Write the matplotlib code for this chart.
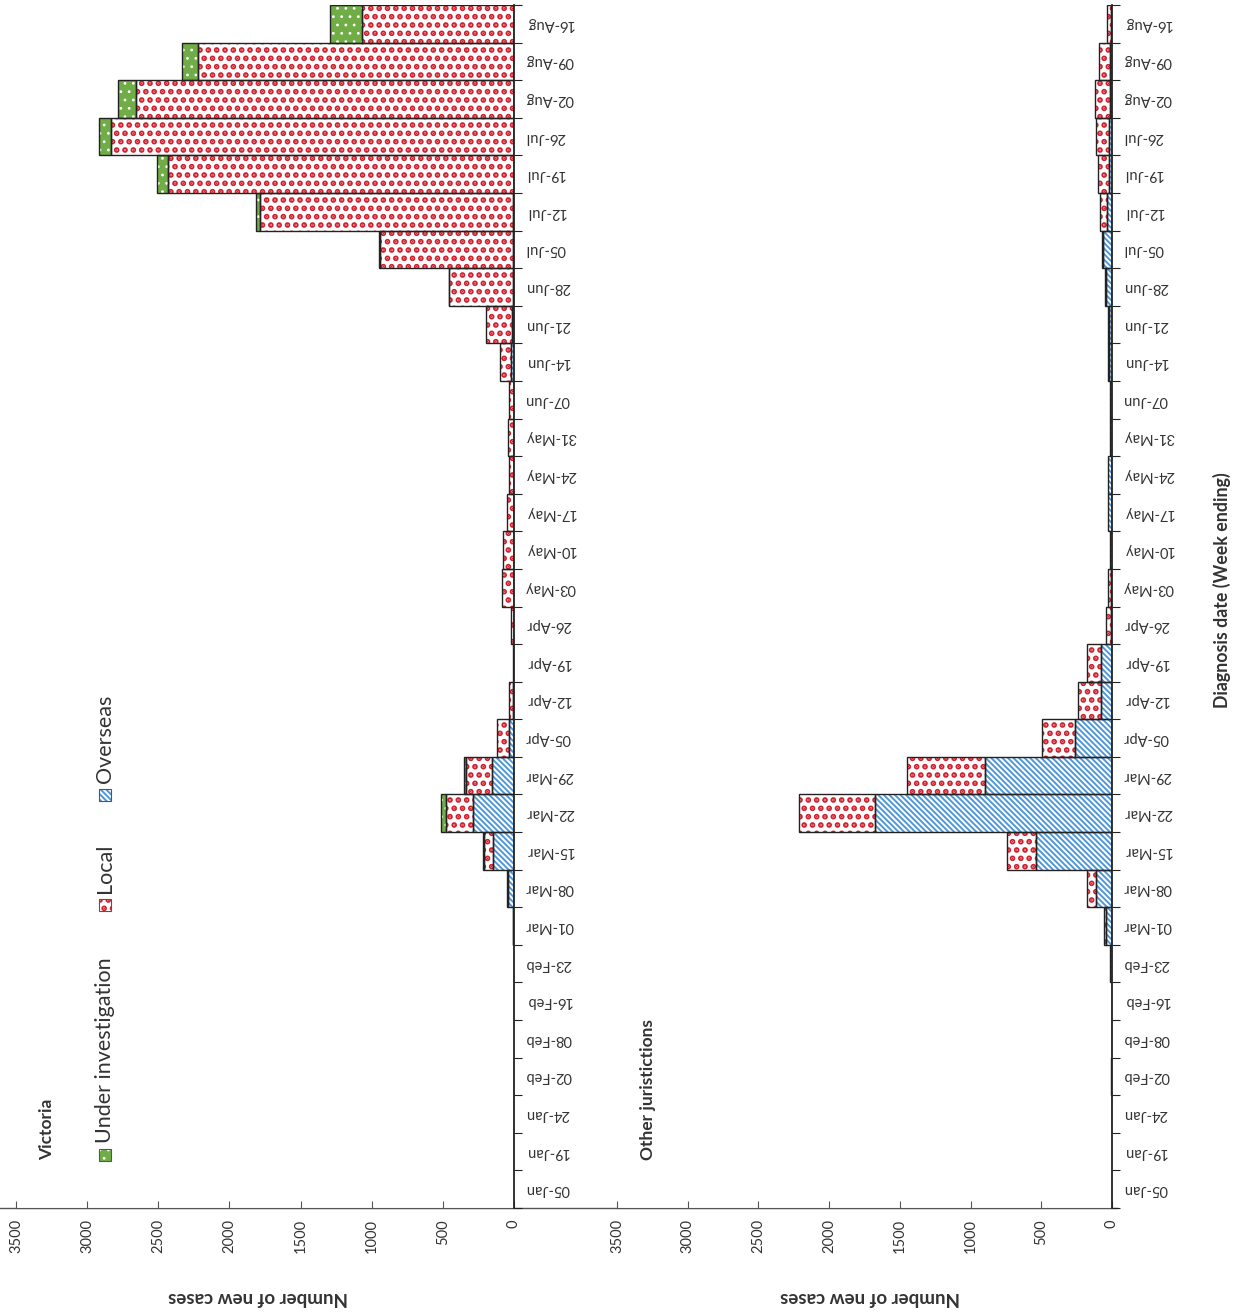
import numpy as np
import matplotlib
matplotlib.use('Agg')
import matplotlib.pyplot as plt
from matplotlib.patches import Rectangle
from matplotlib.lines import Line2D

plt.rcParams['font.family'] = ['Lato', 'DejaVu Sans']

# week ending labels, as printed on the chart
dates = ['05-Jan', '19-Jan', '24-Jan', '02-Feb', '08-Feb', '16-Feb', '23-Feb', '01-Mar',
         '08-Mar', '15-Mar', '22-Mar', '29-Mar', '05-Apr', '12-Apr', '19-Apr', '26-Apr',
         '03-May', '10-May', '17-May', '24-May', '31-May', '07-Jun', '14-Jun', '21-Jun',
         '28-Jun', '05-Jul', '12-Jul', '19-Jul', '26-Jul', '02-Aug', '09-Aug', '16-Aug']

# Victoria
vic_overseas = [0, 1, 2, 1, 0, 1, 1, 6, 40, 151, 287, 155, 35, 9, 3, 2,
                3, 2, 2, 2, 3, 2, 21, 16, 8, 5, 4, 3, 3, 2, 2, 1]
vic_local = [0, 0, 0, 0, 0, 0, 0, 1, 7, 62, 189, 183, 82, 28, 6, 17,
             79, 73, 45, 35, 42, 33, 75, 179, 447, 940, 1780, 2431, 2829, 2657, 2218, 1065]
vic_investigation = [0, 0, 0, 0, 0, 0, 0, 0, 0, 3, 40, 16, 0, 0, 0, 0,
                     0, 0, 0, 0, 0, 0, 0, 0, 2, 7, 29, 76, 87, 124, 114, 225]

# Other jurisdictions
oth_overseas = [0, 0, 3, 8, 2, 2, 15, 42, 111, 537, 1675, 898, 261, 78, 78, 7,
                10, 12, 28, 28, 16, 16, 22, 22, 45, 61, 35, 21, 21, 16, 14, 5]
oth_local = [0, 0, 0, 0, 0, 0, 0, 12, 68, 208, 538, 554, 231, 165, 96, 38,
             18, 0, 0, 0, 0, 0, 4, 4, 4, 7, 47, 75, 94, 102, 80, 28]
oth_investigation = [0] * 32

legend_names = ['Under investigation', 'Local', 'Overseas']
value_ticks = [0, 500, 1000, 1500, 2000, 2500, 3000, 3500]

W, H = 1243, 1312
GREEN = '#70AD47'
RED = '#D0202E'
BLUE = '#4F97D8'
EDGE = '#222222'
TXT = '#333333'

# (face, hatch colour, hatch, hatch linewidth)
styles = {
    'Overseas': ('white', BLUE, '\\' * 6, 1.4),
    'Local': ('white', RED, '..', 2.8),
    'Under investigation': (GREEN, 'white', '..', 0.8),
}


def fx(x):
    return x / W


def fy(y):
    return 1 - y / H


def hatched_bar(ax, y, vals, left, name):
    face, hc, hatch, hlw = styles[name]
    vals = np.asarray(vals, float)
    m = vals > 0
    with plt.rc_context({'hatch.linewidth': hlw}):
        bars = ax.barh(y[m], vals[m], left=left[m], height=1.0, color=face,
                       edgecolor=hc, linewidth=0, hatch=hatch, zorder=2)
    for b in bars:
        if hasattr(b, 'set_hatch_linewidth'):
            b.set_hatch_linewidth(hlw)
    ax.barh(y[m], vals[m], left=left[m], height=1.0, fill=False,
            edgecolor=EDGE, linewidth=1.0, zorder=3)


def panel(ax, overseas, local, invest):
    y = np.arange(len(dates))
    left = np.zeros(len(dates))
    for name, vals in [('Overseas', overseas), ('Local', local),
                       ('Under investigation', invest)]:
        hatched_bar(ax, y, vals, left, name)
        left = left + np.asarray(vals, float)

    ax.set_xlim(3500, 0)
    ax.set_ylim(-0.5, len(dates) - 0.5)
    ax.set_xticks(value_ticks)
    ax.set_xticklabels([str(v) for v in value_ticks])
    ax.tick_params(axis='x', direction='in', length=5, color='#555555',
                   labelrotation=90, pad=8, labelsize=10.5, labelcolor=TXT)

    ax.yaxis.tick_right()
    ax.set_yticks(np.arange(-0.5, len(dates), 1))
    ax.set_yticklabels([])
    ax.set_yticks(np.arange(len(dates)), minor=True)
    ax.set_yticklabels(dates, minor=True)
    ax.tick_params(axis='y', which='major', direction='out', length=6,
                   color=EDGE, left=False, right=True)
    ax.tick_params(axis='y', which='minor', length=0, pad=8, left=False,
                   right=True, labelleft=False, labelright=True,
                   labelsize=10.5, labelcolor=TXT)
    for lab in ax.get_yticklabels(minor=True):
        lab.set_rotation(180)
        lab.set_rotation_mode('anchor')
        lab.set_ha('right')
        lab.set_va('center')

    for s in ['left', 'top']:
        ax.spines[s].set_visible(False)
    ax.spines['right'].set_color(EDGE)
    ax.spines['right'].set_linewidth(1.3)
    ax.spines['right'].set_zorder(4)
    ax.spines['bottom'].set_color('#555555')


fig = plt.figure(figsize=(W / 100, H / 100), dpi=100)
ax1 = fig.add_axes([fx(16), fy(1208), fx(514 - 16), (1208 - 5) / H])
ax2 = fig.add_axes([fx(617), fy(1208), fx(1112 - 617), (1208 - 5) / H])
panel(ax1, vic_overseas, vic_local, vic_investigation)
panel(ax2, oth_overseas, oth_local, oth_investigation)

# the value axis line runs across both panels
fig.add_artist(Line2D([0, fx(1117)], [fy(1208), fy(1208)], transform=fig.transFigure,
                      color='#555555', lw=1.0, zorder=0))

fig.text(fx(47), fy(1160), 'Victoria', rotation=90, rotation_mode='anchor',
         ha='left', va='center', fontsize=12.5, fontweight='bold', color=TXT)
fig.text(fx(648), fy(1160), 'Other juristictions', rotation=90, rotation_mode='anchor',
         ha='left', va='center', fontsize=12.5, fontweight='bold', color=TXT)

for cx in [258, 870]:
    fig.text(fx(cx), fy(1297), 'Number of new cases', rotation=180,
             ha='center', va='center', fontsize=13.5, fontweight='bold', color=TXT)
fig.text(fx(1222), fy(590), 'Diagnosis date (Week ending)', rotation=90,
         ha='center', va='center', fontsize=12.8, fontweight='bold', color=TXT)

# legend, drawn by hand so it reads sideways like the rest of the chart
leg_y = [1161, 911, 801]
for name, ybot in zip(legend_names, leg_y):
    face, hc, hatch, hlw = styles[name]
    with plt.rc_context({'hatch.linewidth': hlw}):
        r = Rectangle((fx(99), fy(ybot)), fx(12), 12 / H, transform=fig.transFigure,
                      facecolor=face, edgecolor=hc, linewidth=0, hatch=hatch)
    if hasattr(r, 'set_hatch_linewidth'):
        r.set_hatch_linewidth(hlw)
    fig.add_artist(r)
    fig.add_artist(Rectangle((fx(99), fy(ybot)), fx(12), 12 / H, transform=fig.transFigure,
                             fill=False, edgecolor='#555555', linewidth=0.8))
    fig.text(fx(105), fy(ybot - 18), name, rotation=90, rotation_mode='anchor',
             ha='left', va='center', fontsize=15.5, color=TXT)

fig.savefig('out.png', dpi=100)
